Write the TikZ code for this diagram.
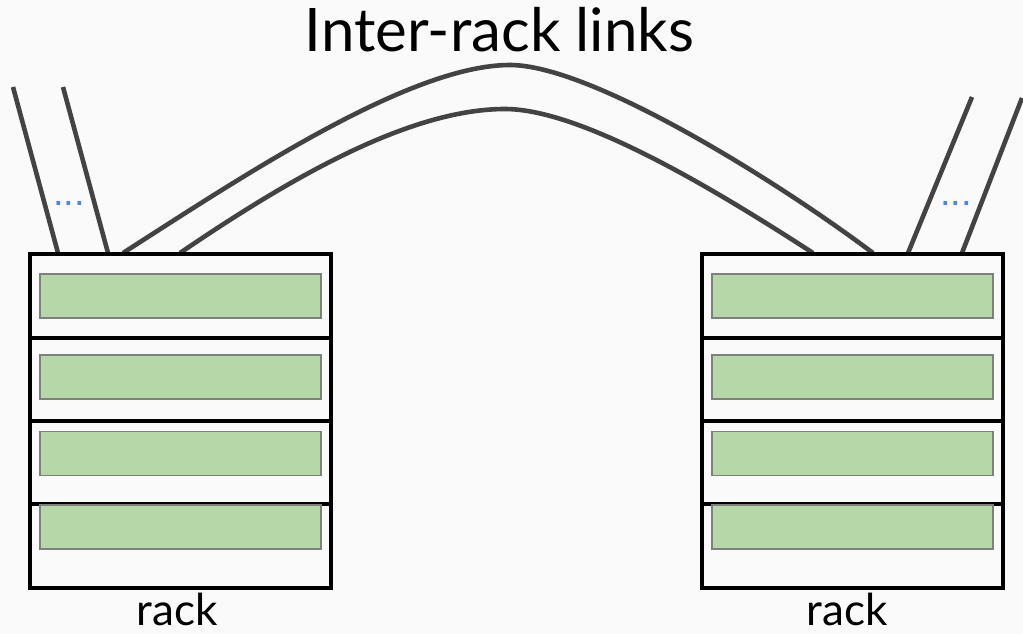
\documentclass[tikz,border=0pt]{standalone}
\usepackage{fontspec}
\setmainfont{Lato}
\newfontfamily\dotsfont{Liberation Sans}

\definecolor{bg}{HTML}{FAFAFA}
\definecolor{cable}{HTML}{434343}
\definecolor{slot}{HTML}{B6D7A8}
\definecolor{slotedge}{HTML}{7F7F7F}
\definecolor{dotblue}{HTML}{4A86E8}

\tikzset{
  cablestyle/.style={draw=cable, line width=4.6pt},
  rackbox/.style={draw=black, line width=3.6pt, minimum width=301pt,
    minimum height=334pt, inner sep=0pt, outer sep=0pt},
  slotbox/.style={draw=slotedge, fill=slot, line width=1.4pt,
    minimum width=281pt, minimum height=44pt, inner sep=0pt, outer sep=0pt},
  divider/.style={draw=black, line width=3.6pt},
  moredots/.style={text=dotblue, anchor=base, inner sep=0pt,
    font=\dotsfont\fontsize{38}{38}\selectfont},
  racklabel/.style={anchor=base, inner sep=0pt, text depth=0pt,
    font=\fontsize{44}{44}\selectfont},
  titlelabel/.style={anchor=base, inner sep=0pt, text depth=0pt,
    font=\fontsize{60}{60}\selectfont}
}

\begin{document}
\begin{tikzpicture}[x=1pt,y=-1pt]
  \fill[bg] (0,0) rectangle (1023,634);
  \useasboundingbox (0,0) rectangle (1023,634);

  % cable end points
  \coordinate (l1top) at (13,87);    \coordinate (l1bot) at (58,253);
  \coordinate (l2top) at (63,87);    \coordinate (l2bot) at (108,253);
  \coordinate (r1top) at (972,97);   \coordinate (r1bot) at (908,253);
  \coordinate (r2top) at (1022,98);  \coordinate (r2bot) at (962,253);
  \coordinate (oa) at (123,253);     \coordinate (ob) at (873,253);
  \coordinate (ia) at (180,253);     \coordinate (ib) at (813,253);
  \coordinate (opeak) at (510,65);   \coordinate (ipeak) at (505,109);

  % uplinks leaving each rack
  \draw[cablestyle] (l1top) -- (l1bot);
  \draw[cablestyle] (l2top) -- (l2bot);
  \draw[cablestyle] (r1top) -- (r1bot);
  \draw[cablestyle] (r2top) -- (r2bot);

  % inter-rack links
  \draw[cablestyle] (oa) .. controls (243,176) and (410,65) .. (opeak)
                         .. controls (590,65) and (773,178) .. (ob);
  \draw[cablestyle] (ia) .. controls (280,185) and (405,109) .. (ipeak)
                         .. controls (585,109) and (728,198) .. (ib);

  \node[moredots] (dotsL) at (69,205.5) {...};
  \node[moredots] (dotsR) at (956,205.5) {...};

  % racks with their slots
  \foreach \r/\cx in {L/180.5, R/852.5} {
    \node[rackbox] (rack\r) at (\cx,421) {};
    \foreach \dy in {338,421,504}
      \draw[divider] (rack\r.west |- 0,\dy) -- (rack\r.east |- 0,\dy);
    \node[slotbox] (slot\r1) at (\cx,296) {};
    \node[slotbox] (slot\r2) at (\cx,377) {};
    \node[slotbox] (slot\r3) at (\cx,453.5) {};
    \node[slotbox] (slot\r4) at (\cx,527) {};
  }

  \node[racklabel] (labL) at (177,625) {rack};
  \node[racklabel] (labR) at (847,625) {rack};

  \node[titlelabel] (title) at (499.5,52) {Inter-rack links};
\end{tikzpicture}
\end{document}
